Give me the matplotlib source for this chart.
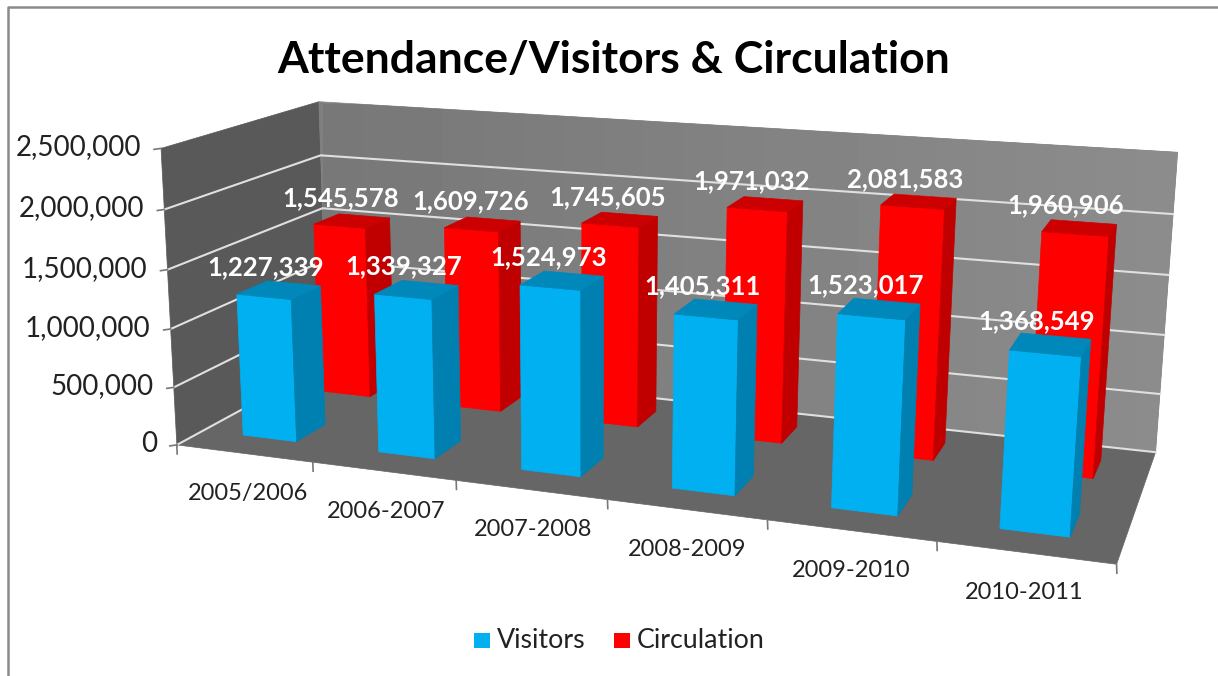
import numpy as np
from matplotlib import pyplot as plt
from matplotlib.patches import Polygon, Rectangle

plt.rcParams['font.family'] = ['Lato', 'DejaVu Sans']

years = ['2005/2006', '2006-2007', '2007-2008', '2008-2009', '2009-2010', '2010-2011']
visitors = [1227339, 1339327, 1524973, 1405311, 1523017, 1368549]
circulation = [1545578, 1609726, 1745605, 1971032, 2081583, 1960906]
y_ticks = [0, 500000, 1000000, 1500000, 2000000, 2500000]

# camera fit: (category, depth, value) -> picture pixels
ymax = 2500000
calib = [(0, 0, 0, 180, 442), (0, 0, ymax, 157, 146), (0, 1, 0, 323, 361), (0, 1, ymax, 323, 104),
         (6, 1, 0, 1157, 452), (6, 1, ymax, 1177, 152), (6, 0, 0, 1117, 561),
         (1, 0, 0, 315, 463), (2, 0, 0, 457, 484), (3, 0, 0, 607, 503), (4, 0, 0, 766, 521), (5, 0, 0, 936, 541)]
A = []
b = []
for u, d, v, px, py in calib:
    w = v / ymax
    A.append([u, d, w, 1, 0, 0, 0, 0, -px*u, -px*d, -px*w])
    b.append(px)
    A.append([0, 0, 0, 0, u, d, w, 1, -py*u, -py*d, -py*w])
    b.append(py)
cam = np.linalg.lstsq(np.array(A, float), np.array(b, float), rcond=None)[0]
cam = np.append(cam, 1).reshape(3, 4)

def proj(u, d, v):
    p = cam @ np.array([u, d, v / ymax, 1.0])
    return p[0] / p[2], p[1] / p[2]

fig = plt.figure(figsize=(12.18, 6.76), dpi=100)
ax = fig.add_axes([0, 0, 1, 1])
ax.axis('off')

def face(pts, color, z=1):
    return ax.add_patch(Polygon([proj(*p) for p in pts], closed=True, facecolor=color, edgecolor=color, lw=0.5, zorder=z))

# chart frame, only top and left survive in the picture
ax.plot([8, 8, 1218], [676, 7, 7], color='#8a8a8a', lw=1.8, zorder=0)

# walls and floor
face([(0, 0, 0), (0, 1, 0), (0, 1, ymax), (0, 0, ymax)], '#595959')
back = face([(0, 1, 0), (6, 1, 0), (6, 1, ymax), (0, 1, ymax)], '#808080')
grad = ax.imshow(np.linspace(0.47, 0.55, 64).reshape(1, -1), extent=(323, 1177, 452, 104), cmap='gray', vmin=0, vmax=1, aspect='auto', zorder=1)
grad.set_clip_path(back)
ax.set_xlim(0, 1218)
ax.set_ylim(676, 0)
face([(0, 0, 0), (6, 0, 0), (6, 1, 0), (0, 1, 0)], '#666666')

for t in y_ticks[:-1]:
    pts = [proj(0, 0, t), proj(0, 1, t), proj(6, 1, t)]
    ax.plot([p[0] for p in pts], [p[1] for p in pts], color='#e0e0e0', lw=1.5, zorder=2)
for t in y_ticks:
    x0, y0 = proj(0, 0, t)
    ax.plot([x0 - 7, x0], [y0 + 1, y0], color='#777777', lw=1.2, zorder=2)
    ax.text(x0 - 20, y0 - 1, f'{t:,}', ha='right', va='center', fontsize=20, color='#222222')

for i in range(7):
    x0, y0 = proj(i, 0, 0)
    ax.plot([x0, x0 + 0.3], [y0, y0 + 9], color='#777777', lw=1.2, zorder=2)

for i, year in enumerate(years):
    x0, y0 = proj(i + 0.5, 0, 0)
    ax.text(x0 + 4 - i, y0 + 40, year, ha='center', va='center', fontsize=17, color='#222222')

def bar(i, u0, u1, d0, d1, val, front, side, top, z):
    face([(i + u0, d0, 0), (i + u1, d0, 0), (i + u1, d0, val), (i + u0, d0, val)], front, z)
    face([(i + u1, d0, 0), (i + u1, d1, 0), (i + u1, d1, val), (i + u1, d0, val)], side, z)
    face([(i + u0, d0, val), (i + u1, d0, val), (i + u1, d1, val), (i + u0, d1, val)], top, z)

for i, val in enumerate(circulation):
    bar(i, 0.29, 0.69, 0.68, 0.86, val, '#ff0000', '#c00000', '#cc0000', 3)
for i, val in enumerate(visitors):
    bar(i, 0.30, 0.70, 0.16, 0.35, val, '#00b0f0', '#0080b0', '#0088bb', 4)

for i, val in enumerate(circulation):
    x0, y0 = proj(i + 0.5, 0.72, val)
    ax.text(x0 - 6 - 1.4 * i, y0 - 26, f'{val:,}', ha='center', va='center', fontsize=18.5, fontweight='bold', color='white', zorder=5)
for i, val in enumerate(visitors):
    x0, y0 = proj(i + 0.5, 0.26, val)
    ax.text(x0 - 14, y0 - 23, f'{val:,}', ha='center', va='center', fontsize=18.5, fontweight='bold', color='white', zorder=5)

ax.text(614, 60, 'Attendance/Visitors & Circulation', ha='center', va='center', fontsize=32, fontweight='bold', color='black')

# legend
ax.add_patch(Rectangle((474, 633), 16, 15, facecolor='#00b0f0', edgecolor='none'))
ax.text(497, 641, 'Visitors', ha='left', va='center', fontsize=19.3, color='#222222')
ax.add_patch(Rectangle((614, 633), 16, 15, facecolor='#ff0000', edgecolor='none'))
ax.text(637, 641, 'Circulation', ha='left', va='center', fontsize=19.3, color='#222222')

fig.savefig('out.png', dpi=100)
